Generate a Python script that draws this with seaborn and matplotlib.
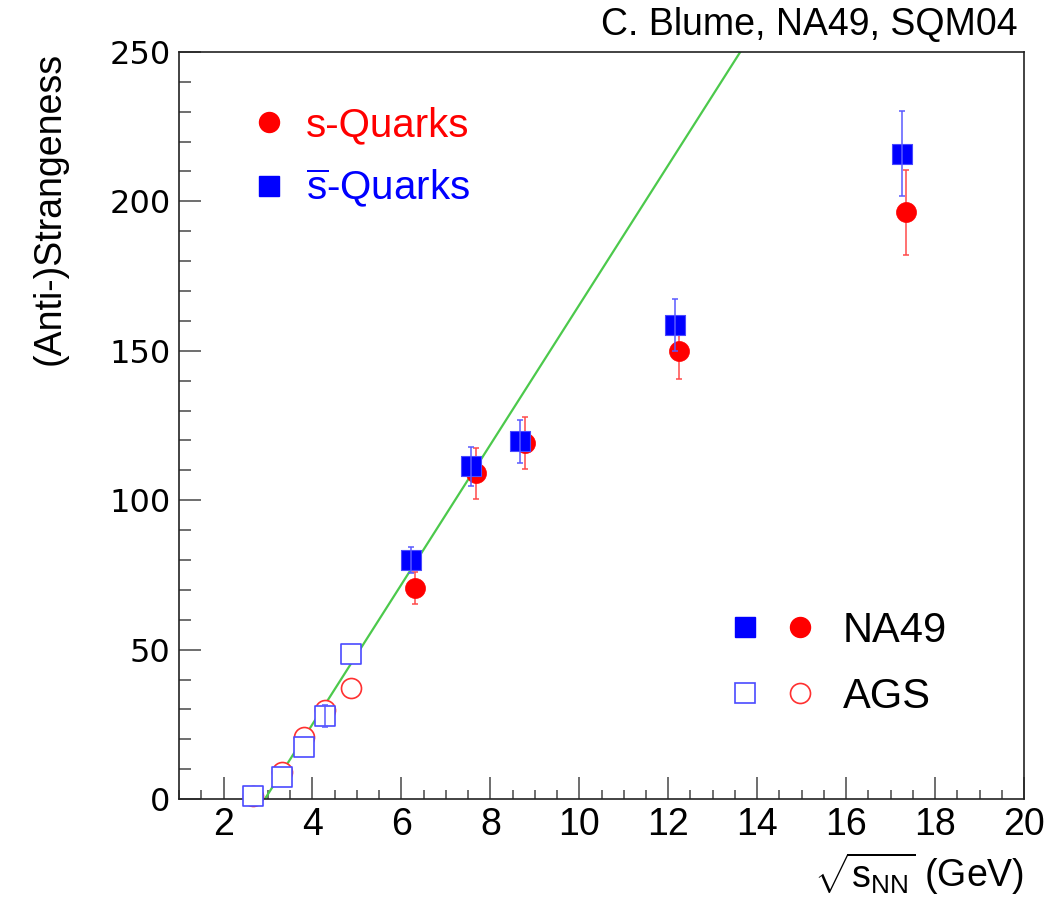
import numpy as np
import pandas as pd
import seaborn as sns
import matplotlib.pyplot as plt
from matplotlib.lines import Line2D
from matplotlib.legend_handler import HandlerTuple
from matplotlib.ticker import MultipleLocator


# NA49 (filled) - strange quarks (circles) and anti-strange quarks (squares)
na49_s_x = [6.30, 7.67, 8.77, 12.25, 17.35]
na49_s_y = [70.7, 109.0, 119.0, 150.0, 196.3]
na49_s_err = [5.4, 8.6, 8.7, 9.6, 14.2]
na49_sbar_x = [6.21, 7.56, 8.67, 12.15, 17.25]
na49_sbar_y = [80.1, 111.4, 119.8, 158.6, 216.0]
na49_sbar_err = [4.3, 6.5, 7.2, 8.8, 14.1]

# AGS (open)
ags_s_x = [2.67, 3.31, 3.82, 4.28, 4.86]
ags_s_y = [1.0, 9.1, 20.6, 29.8, 37.0]
ags_sbar_x = [2.67, 3.31, 3.82, 4.28, 4.86]
ags_sbar_y = [1.0, 7.5, 17.5, 27.9, 48.4]
ags_sbar_err = [0.0, 0.0, 0.0, 3.7, 0.0]

# straight line (green)
fit_x = [2.93, 13.62]
fit_y = [0.0, 250.0]

RED = '#ff0000'
BLUE = '#0000ff'

sns.set_theme(style='white')
plt.rcParams['font.family'] = ['Liberation Sans', 'DejaVu Sans']
plt.rcParams['text.color'] = 'black'
plt.rcParams['axes.labelcolor'] = 'black'
plt.rcParams['xtick.color'] = 'black'
plt.rcParams['ytick.color'] = 'black'
plt.rcParams['mathtext.fontset'] = 'custom'
plt.rcParams['mathtext.rm'] = 'Liberation Sans'
plt.rcParams['mathtext.it'] = 'Liberation Sans'

fig = plt.figure(figsize=(10.55, 8.99), dpi=100)
ax = fig.add_axes([0.1697, 0.1112, 0.8009, 0.8310])

ms = 14.4
sns.lineplot(x=fit_x, y=fit_y, color='#4cc94c', linewidth=1.6, ax=ax, zorder=1)

# error bars (only where there is one)
ags_err = pd.DataFrame({'x': ags_sbar_x, 'y': ags_sbar_y, 'e': ags_sbar_err})
ags_err = ags_err[ags_err['e'] > 0]
ax.errorbar(na49_s_x, na49_s_y, yerr=na49_s_err, fmt='none', ecolor='#ff4a4a',
            elinewidth=1.1, capsize=2.5, capthick=1.1, zorder=2)
ax.errorbar(na49_sbar_x, na49_sbar_y, yerr=na49_sbar_err, fmt='none', ecolor='#5a5aff',
            elinewidth=1.1, capsize=2.5, capthick=1.1, zorder=6)
ax.errorbar(ags_err['x'], ags_err['y'], yerr=ags_err['e'], fmt='none', ecolor='#5a5aff',
            elinewidth=1.1, capsize=2.5, capthick=1.1, zorder=6)

# markers
sns.scatterplot(x=ags_s_x, y=ags_s_y, marker='o', s=ms**2, facecolor='white',
                edgecolor='#ff3030', linewidth=1.2, ax=ax, zorder=2, clip_on=False)
sns.scatterplot(x=na49_s_x, y=na49_s_y, marker='o', s=ms**2, color=RED,
                edgecolor=RED, linewidth=0.5, ax=ax, zorder=3)
sns.scatterplot(x=ags_sbar_x, y=ags_sbar_y, marker='s', s=ms**2, facecolor='white',
                edgecolor='#4a4aff', linewidth=1.2, ax=ax, zorder=5, clip_on=False)
sns.scatterplot(x=na49_sbar_x, y=na49_sbar_y, marker='s', s=ms**2, color=BLUE,
                edgecolor='#4a4aff', linewidth=0.8, ax=ax, zorder=5)

ax.set_xlim(1, 20)
ax.set_ylim(0, 250)
ax.xaxis.set_major_locator(MultipleLocator(2))
ax.xaxis.set_minor_locator(MultipleLocator(0.5))
ax.yaxis.set_major_locator(MultipleLocator(50))
ax.yaxis.set_minor_locator(MultipleLocator(10))
ax.tick_params(axis='both', which='both', direction='in', color='#555555', width=1.2,
               bottom=True, left=True, top=False, right=False)
ax.tick_params(axis='x', which='major', length=16, pad=6, labelsize=27)
ax.tick_params(axis='x', which='minor', length=6.5)
ax.tick_params(axis='y', which='major', length=16, pad=6, labelsize=23)
ax.tick_params(axis='y', which='minor', length=8.5)
for lab in ax.get_yticklabels():
    lab.set_family('DejaVu Sans')
for sp in ax.spines.values():
    sp.set_color('#222222')
    sp.set_linewidth(1.2)

ax.set_xlabel(r'$\sqrt{\mathrm{s}_{\mathrm{NN}}}$ (GeV)', loc='right', fontsize=27, labelpad=5)
ax.set_ylabel('(Anti-)Strangeness', loc='top', fontsize=27, labelpad=30)

# legend: quark type
h_s = Line2D([], [], ls='none', marker='o', ms=ms, mfc=RED, mec=RED)
h_sbar = Line2D([], [], ls='none', marker='s', ms=ms, mfc=BLUE, mec=BLUE)
leg1 = ax.legend([h_s, h_sbar], ['s-Quarks', r'$\overline{\mathrm{s}}$-Quarks'],
                 loc='upper left', bbox_to_anchor=(0.068, 0.949), frameon=False,
                 fontsize=29, handlelength=0.82, handletextpad=0.5, labelspacing=0.55,
                 labelcolor='markerfacecolor', borderaxespad=0)
ax.add_artist(leg1)

# legend: experiment
h_na49 = (Line2D([], [], ls='none', marker='s', ms=ms, mfc=BLUE, mec=BLUE),
          Line2D([], [], ls='none', marker='o', ms=ms, mfc=RED, mec=RED))
h_ags = (Line2D([], [], ls='none', marker='s', ms=ms, mfc='none', mec='#4a4aff', mew=1.2),
         Line2D([], [], ls='none', marker='o', ms=ms, mfc='none', mec='#ff3030', mew=1.2))
ax.legend([h_na49, h_ags], ['NA49', 'AGS'], handler_map={tuple: HandlerTuple(ndivide=None, pad=0.65)},
          loc='upper left', bbox_to_anchor=(0.633, 0.274), frameon=False,
          fontsize=30, handlelength=2.0, handletextpad=0.7, labelspacing=0.62, borderaxespad=0)

fig.text(1018 / 1055, 1 - 25 / 899, 'C. Blume, NA49, SQM04', ha='right', va='center', fontsize=27)

fig.savefig('out.png', dpi=100)
plt.close(fig)
